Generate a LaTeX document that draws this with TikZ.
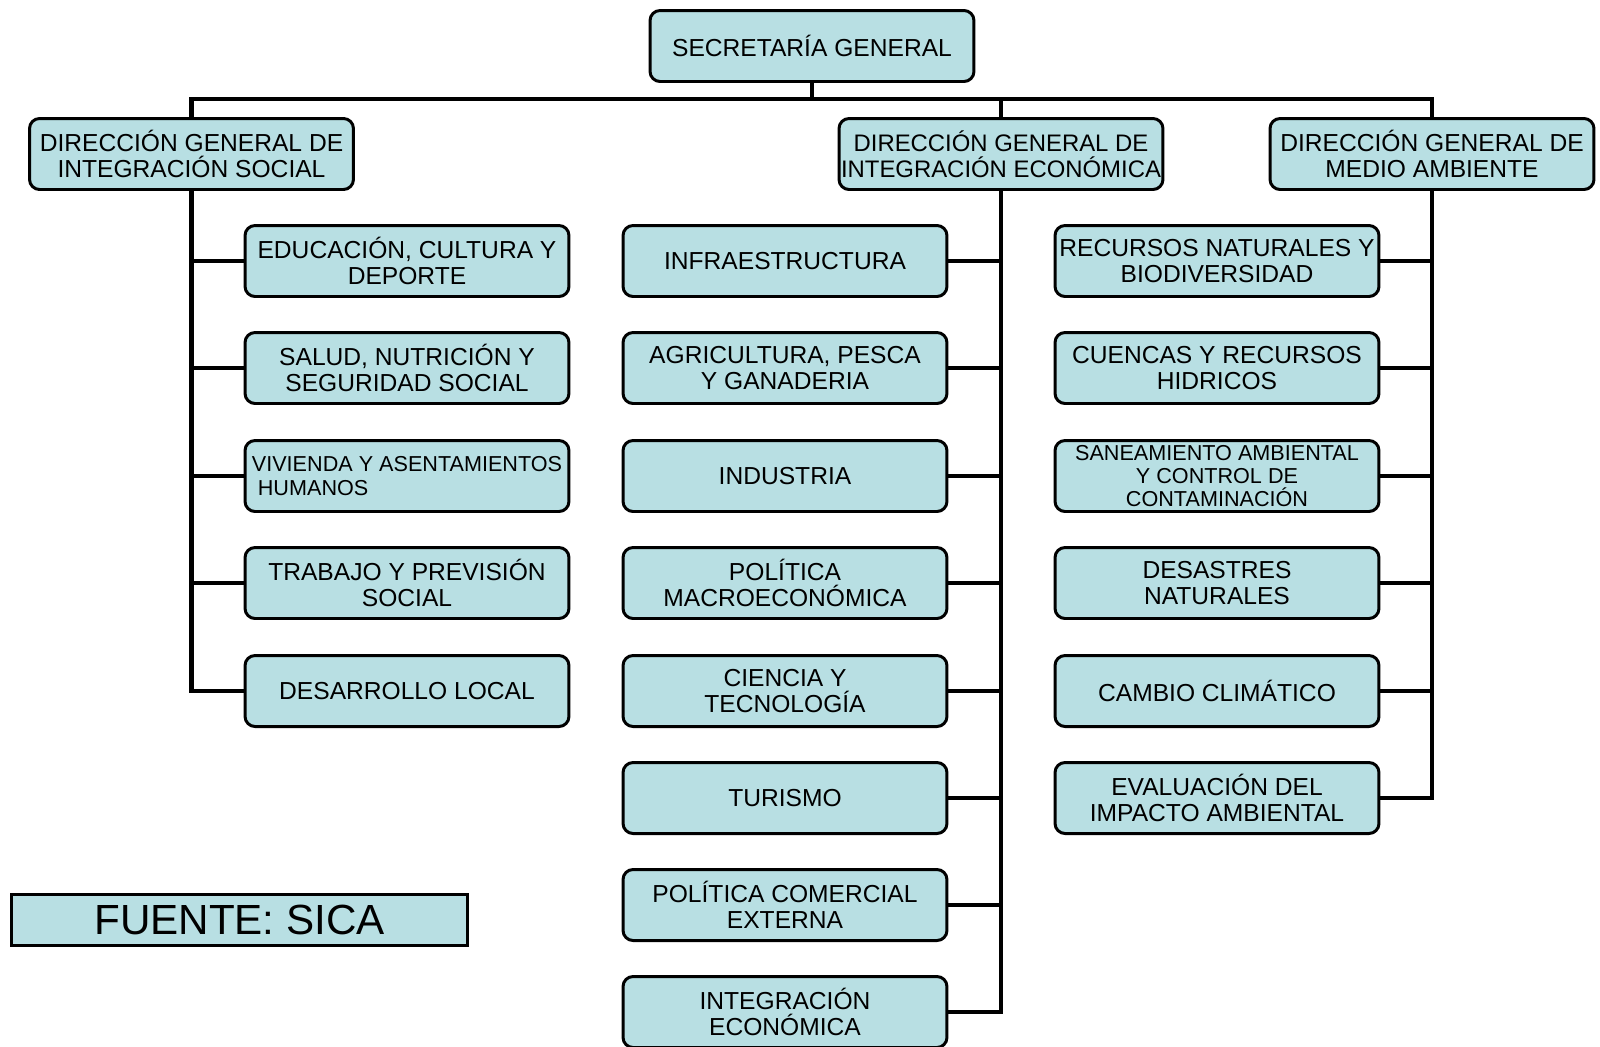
\documentclass[tikz,border=0pt]{standalone}
\usepackage{fontspec}
\setmainfont{Liberation Sans}
\usepackage{xcolor}
\definecolor{cajaazul}{HTML}{B8DFE3}
\usepackage{tikz}
\newcommand{\letracaja}{\fontsize{14}{15}\selectfont}
\newcommand{\letrachica}{\fontsize{12.3}{13.3}\selectfont}

\tikzset{
  caja/.style={draw, line width=1.7pt, rounded corners=0.2cm, fill=cajaazul,
    minimum width=6.48cm, minimum height=1.42cm, inner sep=0pt,
    align=center, font=\letracaja},
  linea/.style={line width=2.3pt}
}

\begin{document}
\begin{tikzpicture}[x=0.02cm, y=-0.02cm]

            \useasboundingbox (0,0) rectangle (1600,1046);

            \coordinate (barra) at (812,99);

            \node[caja] (sg) at (812,46) {SECRETARÍA GENERAL};

            \node[caja] (dgs) at (191.5,154) {DIRECCIÓN GENERAL DE\\INTEGRACIÓN SOCIAL};
            \node[caja, font=\fontsize{13.6}{15}\selectfont] (dge) at (1001,154) {DIRECCIÓN GENERAL DE\\INTEGRACIÓN ECONÓMICA};
            \node[caja] (dgm) at (1432,154) {DIRECCIÓN GENERAL DE\\MEDIO AMBIENTE};

            % integracion social
            \node[caja] (s1) at (407,261) {EDUCACIÓN, CULTURA Y\\DEPORTE};
            \node[caja] (s2) at (407,368) {SALUD, NUTRICIÓN Y\\SEGURIDAD SOCIAL};
            \node[caja, align=left, font=\letrachica] (s3) at (407,476) {VIVIENDA Y ASENTAMIENTOS\\\ HUMANOS};
            \node[caja] (s4) at (407,583) {TRABAJO Y PREVISIÓN\\SOCIAL};
            \node[caja] (s5) at (407,691) {DESARROLLO LOCAL};

            % integracion economica
            \node[caja] (e1) at (785,261) {INFRAESTRUCTURA};
            \node[caja] (e2) at (785,368) {AGRICULTURA, PESCA\\Y GANADERIA};
            \node[caja] (e3) at (785,476) {INDUSTRIA};
            \node[caja] (e4) at (785,583) {POLÍTICA\\MACROECONÓMICA};
            \node[caja] (e5) at (785,691) {CIENCIA Y\\TECNOLOGÍA};
            \node[caja] (e6) at (785,798) {TURISMO};
            \node[caja] (e7) at (785,905) {POLÍTICA COMERCIAL\\EXTERNA};
            \node[caja] (e8) at (785,1012) {INTEGRACIÓN\\ECONÓMICA};

            % medio ambiente
            \node[caja] (m1) at (1217,261) {RECURSOS NATURALES Y\\BIODIVERSIDAD};
            \node[caja] (m2) at (1217,368) {CUENCAS Y RECURSOS\\HIDRICOS};
            \node[caja, font=\letrachica] (m3) at (1217,476) {SANEAMIENTO AMBIENTAL\\Y CONTROL DE\\CONTAMINACIÓN};
            \node[caja] (m4) at (1217,583) {DESASTRES\\NATURALES};
            \node[caja] (m5) at (1217,691) {CAMBIO CLIMÁTICO};
            \node[caja] (m6) at (1217,798) {EVALUACIÓN DEL\\IMPACTO AMBIENTAL};

            \node[draw, line width=1.7pt, fill=cajaazul, minimum width=9.14cm,
              minimum height=1.02cm, inner sep=0pt, font=\fontsize{24}{26}\selectfont]
              (fuente) at (239.5,919.5) {FUENTE: SICA};

            % lineas
            \draw[linea] (sg.south) -- (sg.south |- barra);
            \draw[linea] (dgs.north) -- (dgs.north |- barra) -| (dgm.north);
            \draw[linea] (dge.north) -- (dge.north |- barra);

            \foreach \i in {1,...,5}
              \draw[linea] (dgs.south) |- (s\i.west);
            \foreach \i in {1,...,8}
              \draw[linea] (dge.south) |- (e\i.east);
            \foreach \i in {1,...,6}
              \draw[linea] (dgm.south) |- (m\i.east);

          \end{tikzpicture}
\end{document}
